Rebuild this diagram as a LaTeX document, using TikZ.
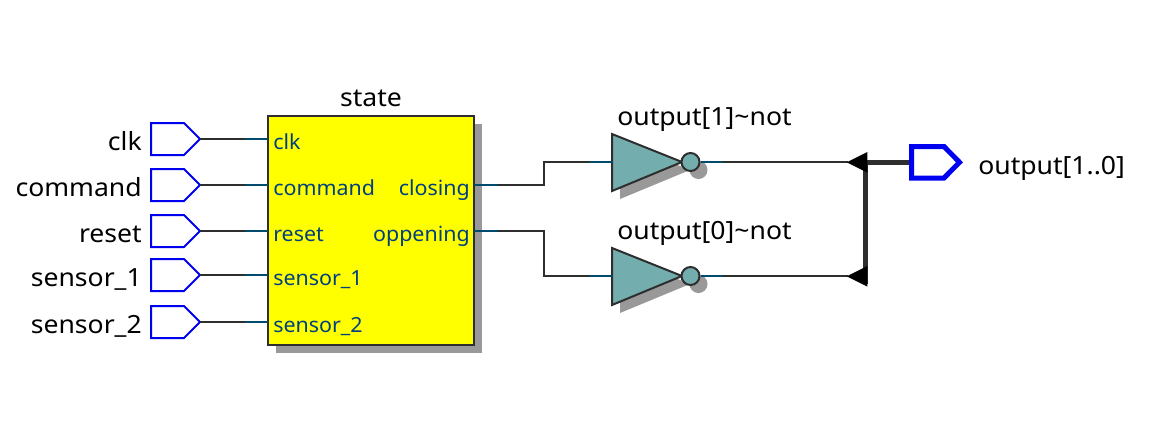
\documentclass[tikz,border=0pt]{standalone}
\usepackage{fontspec}
\setmainfont{Noto Sans}
\newfontfamily\bigface[FakeStretch=1.06]{Noto Sans}
\newfontfamily\smallface[FakeStretch=1.03]{Noto Sans}
\newcommand{\bigsz}{\bigface\fontsize{18.8}{22}\selectfont}
\newcommand{\smallsz}{\smallface\fontsize{15.6}{18}\selectfont}
\definecolor{wiredark}{HTML}{2E2E2E}
\definecolor{wireblue}{HTML}{004A6E}
\definecolor{porttext}{HTML}{004080}
\definecolor{gatefill}{HTML}{73ADAD}
\definecolor{shadowgray}{HTML}{999999}
\definecolor{pinblue}{HTML}{0000F0}
\definecolor{blockyellow}{HTML}{FFFF00}
\tikzset{
  x=0.75pt,y=-0.75pt,
  wire/.style={draw=wiredark,line width=1.5pt,line join=miter},
  stub/.style={draw=wireblue,line width=1.5pt},
  pin/.style={draw=pinblue,line width=1.5pt,fill=white,line join=miter},
  outpin/.style={draw=pinblue,line width=3.75pt,fill=white,line join=miter},
  shadow/.style={fill=shadowgray,draw=none},
  gate/.style={draw=wiredark,line width=1.5pt,fill=gatefill,line join=miter},
  bubble/.style={circle,draw=wiredark,line width=1.5pt,fill=gatefill,minimum size=13.5pt,inner sep=0pt},
  bus/.style={draw=wiredark,line width=3.4pt},
  tip/.style={fill=black,draw=none},
  blabel/.style={inner sep=0pt,font=\bigsz,text=black},
  plabel/.style={inner sep=0pt,font=\smallsz,text=porttext},
  block/.style={draw=wiredark,line width=1.5pt,fill=blockyellow,minimum width=154.5pt,minimum height=171.75pt,inner sep=0pt}
}
\begin{document}
\begin{tikzpicture}
\useasboundingbox (0,0) rectangle (1156,422);
\fill[white] (0,0) rectangle (1156,422);
% block
\fill[shadow] (276,124) rectangle (482,353);
\node[block] (state) at (371,230.5) {};
\node[blabel,anchor=base] (statetitle) at (371,106) {state};
% inputs
\foreach \n/\txt/\yy in {clk/clk/139,command/command/185,reset/reset/231,sa/sensor\_1/275,sb/sensor\_2/322}{
  \draw[pin] (151,\yy-16) -- (184,\yy-16) -- (200,\yy) -- (184,\yy+16) -- (151,\yy+16) -- cycle;
  \coordinate (\n pin) at (200,\yy);
  \coordinate (\n stub) at (245,\yy);
  \coordinate (\n port) at (268,\yy);
  \node[blabel,anchor=base east] (\n label) at (142,\yy+11) {\txt};
  \node[plabel,anchor=base west] (\n inner) at (273,\yy+10) {\txt};
  \draw[wire] (\n pin) -- (\n stub);
  \draw[stub] (\n stub) -- (\n port);
}
\node[plabel,anchor=base east] (closinglabel) at (470,195) {closing};
\node[plabel,anchor=base east] (oppeninglabel) at (470,241) {oppening};
% gates
\foreach \n/\yy/\txt in {gone/162/output[1]\textasciitilde not,gzero/276/output[0]\textasciitilde not}{
  \fill[shadow] (620,\yy-20) -- (690,\yy+8) -- (620,\yy+37) -- cycle;
  \fill[shadow] (698.5,\yy+8) circle (9);
  \draw[gate] (612,\yy-28) -- (682,\yy) -- (612,\yy+29) -- cycle;
  \node[bubble] (\n bub) at (690.5,\yy) {};
  \coordinate (\n in) at (612,\yy);
  \coordinate (\n instub) at (589,\yy);
  \coordinate (\n outstub) at (723,\yy);
  \coordinate (\n end) at (848,\yy);
  \node[blabel,anchor=base west] (\n label) at (617,\yy-37) {\txt};
  \draw[stub] (\n instub) -- (\n in);
  \draw[stub] (\n bub.east) -- (\n outstub);
  \draw[wire] (\n outstub) -- (\n end);
}
\coordinate (closingport) at (474,185);
\coordinate (closingstub) at (498,185);
\coordinate (oppport) at (474,231);
\coordinate (oppstub) at (498,231);
\draw[stub] (closingport) -- (closingstub);
\draw[wire] (closingstub) -| (544,162) -- (goneinstub);
\draw[stub] (oppport) -- (oppstub);
\draw[wire] (oppstub) -| (544,276) -- (gzeroinstub);
% bus
\coordinate (bustop) at (865.5,160);
\coordinate (busbot) at (865.5,284);
\coordinate (busjoin) at (912,162.3);
\draw[bus] (bustop) -- (busbot);
\draw[bus] (865.5,162.3) -- (busjoin);
\fill[tip] (846.7,162.3) -- (867.3,152) -- (867.3,172.6) -- cycle;
\fill[tip] (846.7,276.3) -- (867.3,266) -- (867.3,286.6) -- cycle;
\draw[outpin] (911.5,146.5) -- (944,146.5) -- (959.5,162.3) -- (944,178) -- (911.5,178) -- cycle;
\node[blabel,anchor=base west] (outlabel) at (978,174) {output[1..0]};
\end{tikzpicture}
\end{document}
